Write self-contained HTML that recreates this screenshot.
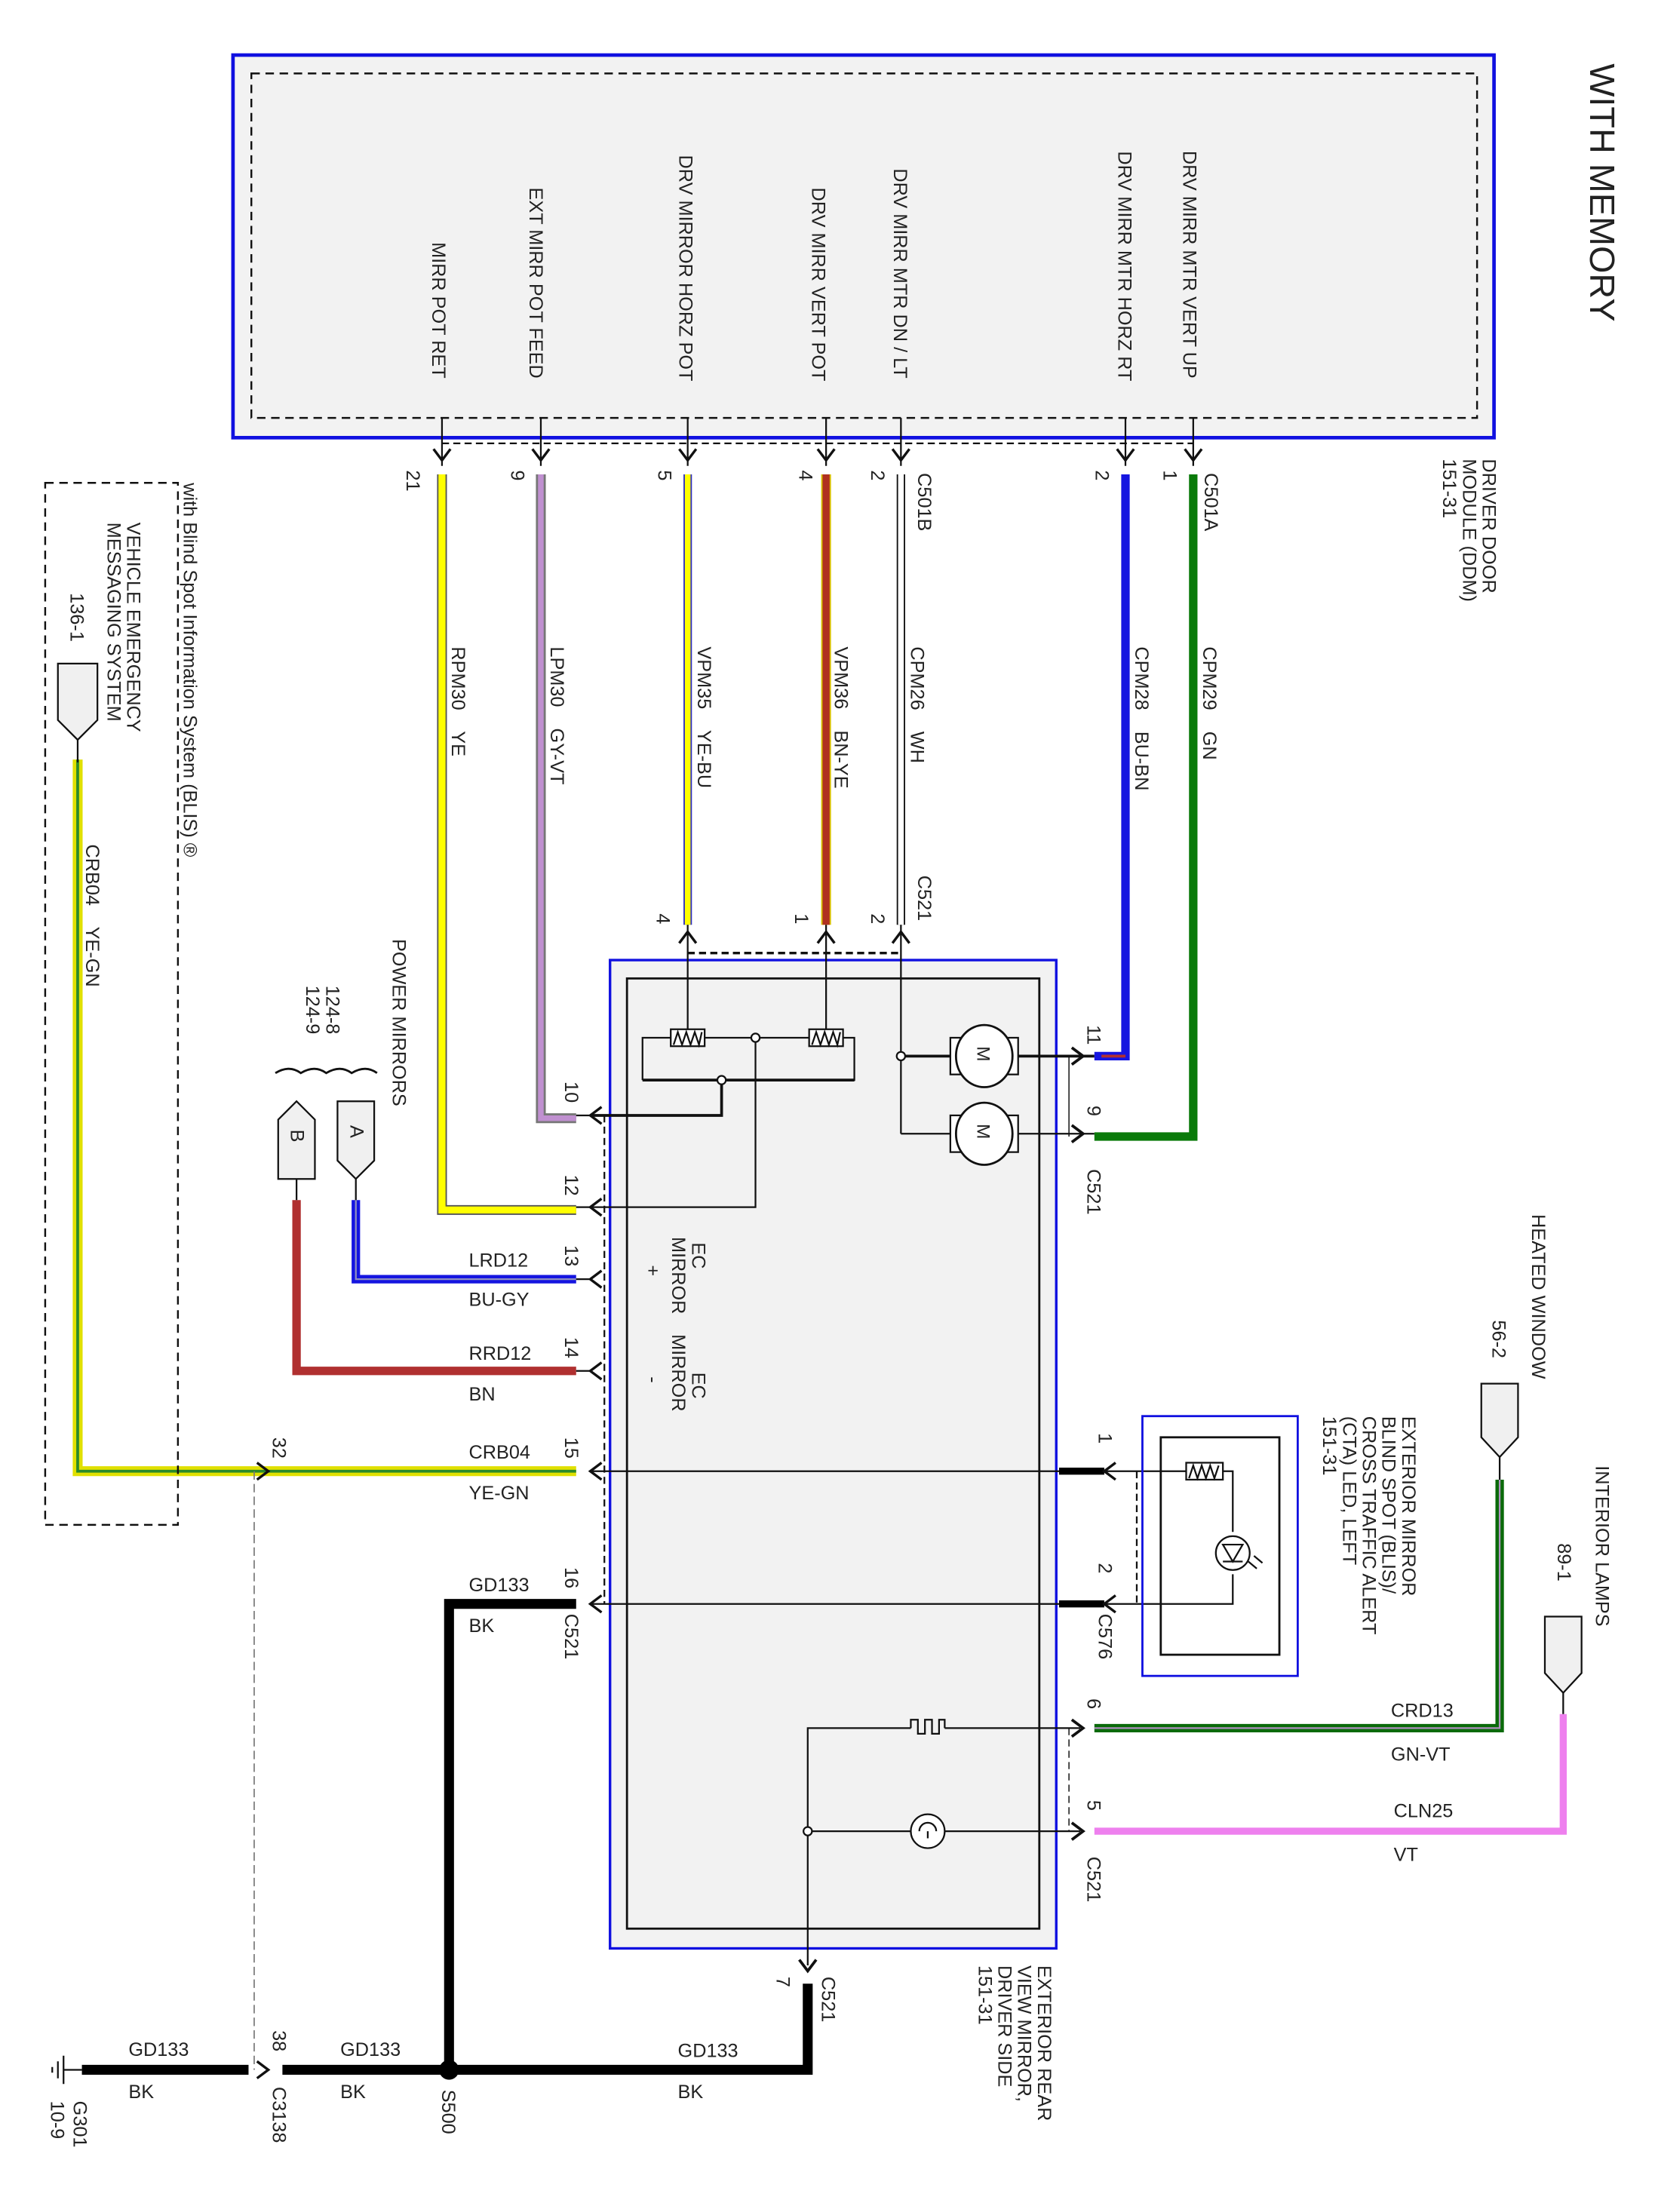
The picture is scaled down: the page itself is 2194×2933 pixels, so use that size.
<!DOCTYPE html>
<html><head><meta charset="utf-8"><style>
html,body{margin:0;padding:0;background:#fff}
svg{display:block}
text{font-family:"Liberation Sans",sans-serif;font-size:13.5px;fill:#222;white-space:pre}
</style></head><body>
<svg width="2194" height="2933" viewBox="0 0 1172 1566.7" preserveAspectRatio="none" xmlns="http://www.w3.org/2000/svg">
<rect width="1172" height="1567" fill="#fff"/>
<!-- DDM box -->
<rect x="165" y="39" width="893" height="271" fill="#f2f2f2" stroke="#1010e0" stroke-width="2.5"/>
<rect x="178" y="52" width="868" height="244" fill="none" stroke="#111" stroke-width="1.3" stroke-dasharray="6,4"/>
<g>
<text text-anchor="end" transform="translate(306,268) rotate(90)">MIRR POT RET</text>
<text text-anchor="end" transform="translate(375,268) rotate(90)">EXT MIRR POT FEED</text>
<text text-anchor="end" transform="translate(481,270) rotate(90)">DRV MIRROR HORZ POT</text>
<text text-anchor="end" transform="translate(575,270) rotate(90)">DRV MIRR VERT POT</text>
<text text-anchor="end" transform="translate(633,268) rotate(90)">DRV MIRR MTR DN / LT</text>
<text text-anchor="end" transform="translate(792,270) rotate(90)">DRV MIRR MTR HORZ RT</text>
<text text-anchor="end" transform="translate(838,268) rotate(90)">DRV MIRR MTR VERT UP</text>
<text style="font-size:25px" transform="translate(1126,45) rotate(90)">WITH MEMORY</text>
<text transform="translate(1050,325) rotate(90)">DRIVER DOOR</text>
<text transform="translate(1036,325) rotate(90)">MODULE (DDM)</text>
<text transform="translate(1022,325) rotate(90)">151-31</text>
</g>
<!-- DDM pins -->
<g stroke="#111" stroke-width="1.2" fill="none">
<path d="M313,296V330M383,296V330M487,296V330M585,296V330M638,296V330M797,296V330M845,296V330"/>
<path d="M307,318L313,326L319,318M377,318L383,326L389,318M481,318L487,326L493,318M579,318L585,326L591,318M632,318L638,326L644,318M791,318L797,326L803,318M839,318L845,326L851,318" stroke-width="1.8"/>
<path d="M313,314H845" stroke-dasharray="5,3"/>
</g>
<g>
<text transform="translate(288,333) rotate(90)">21</text>
<text transform="translate(362,333) rotate(90)">9</text>
<text transform="translate(466,333) rotate(90)">5</text>
<text transform="translate(566,333) rotate(90)">4</text>
<text transform="translate(617,333) rotate(90)">2</text>
<text transform="translate(776,333) rotate(90)">2</text>
<text transform="translate(824,333) rotate(90)">1</text>
<text transform="translate(650,335) rotate(90)">C501B</text>
<text transform="translate(853,335) rotate(90)">C501A</text>
<text transform="translate(320,458) rotate(90)">RPM30    YE</text>
<text transform="translate(390,458) rotate(90)">LPM30    GY-VT</text>
<text transform="translate(494,458) rotate(90)">VPM35    YE-BU</text>
<text transform="translate(591,458) rotate(90)">VPM36    BN-YE</text>
<text transform="translate(645,458) rotate(90)">CPM26    WH</text>
<text transform="translate(804,458) rotate(90)">CPM28    BU-BN</text>
<text transform="translate(852,458) rotate(90)">CPM29    GN</text>
<text transform="translate(650,620) rotate(90)">C521</text>
<text transform="translate(465,647) rotate(90)">4</text>
<text transform="translate(563,647) rotate(90)">1</text>
<text transform="translate(617,647) rotate(90)">2</text>
</g>
<!-- colored wires -->
<g fill="none" stroke-linejoin="miter">
<polyline points="313,336 313,857 408,857" stroke="#555" stroke-width="7"/>
<polyline points="313,336 313,857 408,857" stroke="#ffff00" stroke-width="5"/>
<polyline points="383,336 383,792 408,792" stroke="#777" stroke-width="7"/>
<polyline points="383,336 383,792 408,792" stroke="#c090d0" stroke-width="4"/>
<polyline points="487,336 487,655" stroke="#3030c0" stroke-width="6"/>
<polyline points="487,336 487,655" stroke="#ffff00" stroke-width="4"/>
<polyline points="585,336 585,655" stroke="#d8c000" stroke-width="7"/>
<polyline points="585,336 585,655" stroke="#b03020" stroke-width="5"/>
<polyline points="638,336 638,655" stroke="#111" stroke-width="6"/>
<polyline points="638,336 638,655" stroke="#fff" stroke-width="4"/>
<polyline points="797,336 797,748 775,748" stroke="#1515e0" stroke-width="6"/>
<polyline points="780,748 797,748" stroke="#b03030" stroke-width="2"/>
<polyline points="845,336 845,805 775,805" stroke="#0a7a0a" stroke-width="6"/>
<polyline points="408,906 252,906 252,850" stroke="#1515e0" stroke-width="6"/>
<polyline points="408,906 252,906 252,850" stroke="#9090c0" stroke-width="1.2"/>
<polyline points="408,971 210,971 210,850" stroke="#b03030" stroke-width="6"/>
<polyline points="408,1042 55,1042 55,538" stroke="#e0e000" stroke-width="7"/>
<polyline points="408,1042 55,1042 55,538" stroke="#2a8a2a" stroke-width="2"/>
<polyline points="775,1224 1062,1224 1062,1048" stroke="#0a6a0a" stroke-width="6"/>
<polyline points="775,1224 1062,1224 1062,1048" stroke="#b090c0" stroke-width="1.2"/>
<polyline points="775,1297 1107,1297 1107,1214" stroke="#ee80ee" stroke-width="5"/>
<polyline points="408,1136 318,1136 318,1466" stroke="#000" stroke-width="7"/>
<polyline points="58,1466 176,1466" stroke="#000" stroke-width="7"/>
<polyline points="200,1466 572,1466 572,1405" stroke="#000" stroke-width="7"/>
<path d="M750,1042H782M750,1136H782" stroke="#000" stroke-width="5"/>
</g>
<!-- mirror box -->
<rect x="432" y="680" width="316" height="700" fill="#f2f2f2" stroke="#1010e0" stroke-width="1.8"/>
<rect x="444" y="693" width="292" height="673" fill="none" stroke="#111" stroke-width="1.5"/>
<g stroke="#111" stroke-width="1.2" fill="none">
<path d="M487,655V735M585,655V735M638,655V803" />
<path d="M481,668L487,660L493,668M579,668L585,660L591,668M632,668L638,660L644,668" stroke-width="1.8"/>
<path d="M487,675H638" stroke-dasharray="5,3" stroke-width="1.8"/>
<path d="M455,765V735H475M499,735H573M597,735H605V765H455" />
<path d="M455,765H605" stroke-width="2"/>
<rect x="475" y="729" width="24" height="12" fill="#fff"/>
<rect x="573" y="729" width="24" height="12" fill="#fff"/>
<path d="M477,740L480,731L483,740L486,731L489,740L492,731L495,740L497,731"/>
<path d="M575,740L578,731L581,740L584,731L587,740L590,731L593,740L595,731"/>
<path d="M535,735V855H418"/>
<path d="M511,765V790H418" stroke-width="2"/>
<circle cx="535" cy="735" r="3" fill="#fff"/>
<circle cx="511" cy="765" r="3" fill="#fff"/>
<path d="M638,748H675M719,748H775" stroke-width="2"/>
<path d="M638,803H675M719,803H775"/>
<circle cx="638" cy="748" r="3" fill="#fff"/>
<rect x="673" y="735" width="48" height="26" fill="#fff"/>
<rect x="673" y="790" width="48" height="26" fill="#fff"/>
<ellipse cx="697" cy="748" rx="20" ry="22" fill="#fff" stroke-width="1.5"/>
<ellipse cx="697" cy="803" rx="20" ry="22" fill="#fff" stroke-width="1.5"/>
<path d="M759,742L767,748L759,754M759,797L767,803L759,809" stroke-width="2"/>
<path d="M757,748V805" stroke-width="0.8"/>
<path d="M418,790H408M418,855H408M418,906H408M418,971H408M418,1042H750M418,1136H750"/>
<path d="M426,784L418,790L426,796M426,849L418,855L426,861M426,900L418,906L426,912M426,965L418,971L426,977M426,1036L418,1042L426,1048M426,1130L418,1136L426,1142" stroke-width="1.8"/>
<path d="M428,790V1136" stroke-dasharray="5,3"/>
<path d="M790,1036L782,1042L790,1048M790,1130L782,1136L790,1142" stroke-width="1.8"/>
<path d="M805,1042V1136" stroke-dasharray="5,3"/>
<path d="M782,1042H840M866,1042H873V1085M873,1115V1136H782"/>
<rect x="840" y="1036" width="26" height="12" fill="#fff"/>
<path d="M842,1047L845,1038L848,1047L851,1038L854,1047L857,1038L860,1047L863,1038"/>
<circle cx="873" cy="1100" r="12" fill="#fff"/>
<path d="M866,1094H880L873,1106Z M866,1106H880"/>
<path d="M884,1106l6,5M888,1102l6,5"/>
<path d="M572,1392V1224H645M669,1224H765M572,1297H645M669,1297H765"/>
<path d="M645,1224V1218H650V1228H655V1218H660V1228H665V1218H669V1224"/>
<circle cx="657" cy="1297" r="12" fill="#fff"/>
<path d="M651,1297a6,6 0 0 1 12,0M657,1297v5"/>
<circle cx="572" cy="1297" r="3" fill="#fff"/>
<path d="M759,1218L767,1224L759,1230M759,1291L767,1297L759,1303" stroke-width="2"/>
<path d="M757,1224V1297" stroke-dasharray="5,3" stroke-width="0.8"/>
<path d="M566,1388L572,1396L578,1388" stroke-width="2"/>
<path d="M180,1042V1466" stroke="#777" stroke-dasharray="6,3" stroke-width="0.9"/>
<path d="M182,1036L190,1042L182,1048M182,1460L190,1466L182,1472" stroke-width="1.8"/>
<path d="M45,1456V1476M41,1460V1472M37,1464V1468M45,1466H58"/>
</g>
<circle cx="318" cy="1466" r="7" fill="#000"/>
<rect x="809" y="1003" width="110" height="184" fill="none" stroke="#1010e0" stroke-width="1.5"/>
<rect x="822" y="1018" width="84" height="154" fill="none" stroke="#111" stroke-width="1.5"/>
<g fill="#f0f0f0" stroke="#111" stroke-width="1.2">
<path d="M239,780H265V822L252,835L239,822Z"/>
<path d="M197,835H223V793L210,780L197,793Z"/>
<path d="M41,470H69V510L55,524L41,510Z"/>
<path d="M1049,980H1075V1018L1062,1032L1049,1018Z"/>
<path d="M1094,1145H1120V1185L1107,1199L1094,1185Z"/>
</g>
<path d="M210,835V850M252,835V850M55,524V540M1062,1032V1048M1107,1199V1214" stroke="#111" stroke-width="1.2"/>
<path d="M195,760q10,-6 18,0q10,-6 18,0q10,-6 18,0q10,-6 18,0" stroke="#111" fill="none" stroke-width="1.5"/>
<g>
<text transform="translate(248,797) rotate(90)">A</text>
<text transform="translate(206,800) rotate(90)">B</text>
<text transform="translate(278,665) rotate(90)">POWER MIRRORS</text>
<text transform="translate(231,698) rotate(90)">124-8</text>
<text transform="translate(217,698) rotate(90)">124-9</text>
<text transform="translate(130,342) rotate(90)">with Blind Spot Information System (BLIS) ®</text>
<text transform="translate(90,370) rotate(90)">VEHICLE EMERGENCY</text>
<text transform="translate(76,370) rotate(90)">MESSAGING SYSTEM</text>
<text transform="translate(50,420) rotate(90)">136-1</text>
<text transform="translate(61,598) rotate(90)">CRB04    YE-GN</text>
<text transform="translate(400,766) rotate(90)">10</text>
<text transform="translate(400,832) rotate(90)">12</text>
<text transform="translate(400,882) rotate(90)">13</text>
<text transform="translate(400,947) rotate(90)">14</text>
<text transform="translate(400,1018) rotate(90)">15</text>
<text transform="translate(400,1110) rotate(90)">16</text>
<text transform="translate(400,1143) rotate(90)">C521</text>
<text transform="translate(193,1018) rotate(90)">32</text>
<text x="332" y="897">LRD12</text>
<text x="332" y="925">BU-GY</text>
<text x="332" y="963">RRD12</text>
<text x="332" y="992">BN</text>
<text x="332" y="1033">CRB04</text>
<text x="332" y="1062">YE-GN</text>
<text x="332" y="1127">GD133</text>
<text x="332" y="1156">BK</text>
<text transform="translate(490,880) rotate(90)">EC</text>
<text transform="translate(476,876) rotate(90)">MIRROR</text>
<text transform="translate(458,896) rotate(90)">+</text>
<text transform="translate(490,972) rotate(90)">EC</text>
<text transform="translate(476,945) rotate(90)">MIRROR</text>
<text transform="translate(458,975) rotate(90)">-</text>
<text transform="translate(770,726) rotate(90)">11</text>
<text transform="translate(770,783) rotate(90)">9</text>
<text transform="translate(770,828) rotate(90)">C521</text>
<text transform="translate(778,1015) rotate(90)">1</text>
<text transform="translate(778,1107) rotate(90)">2</text>
<text transform="translate(778,1143) rotate(90)">C576</text>
<text transform="translate(993,1003) rotate(90)">EXTERIOR MIRROR</text>
<text transform="translate(979,1003) rotate(90)">BLIND SPOT (BLIS)/</text>
<text transform="translate(965,1003) rotate(90)">CROSS TRAFFIC ALERT</text>
<text transform="translate(951,1003) rotate(90)">(CTA) LED, LEFT</text>
<text transform="translate(937,1003) rotate(90)">151-31</text>
<text transform="translate(1085,860) rotate(90)">HEATED WINDOW</text>
<text transform="translate(1057,935) rotate(90)">56-2</text>
<text transform="translate(1130,1038) rotate(90)">INTERIOR LAMPS</text>
<text transform="translate(1103,1093) rotate(90)">89-1</text>
<text x="985" y="1216">CRD13</text>
<text x="985" y="1247">GN-VT</text>
<text x="987" y="1287">CLN25</text>
<text x="987" y="1318">VT</text>
<text transform="translate(770,1203) rotate(90)">6</text>
<text transform="translate(770,1275) rotate(90)">5</text>
<text transform="translate(770,1315) rotate(90)">C521</text>
<text transform="translate(550,1400) rotate(90)">7</text>
<text transform="translate(582,1400) rotate(90)">C521</text>
<text transform="translate(735,1392) rotate(90)">EXTERIOR REAR</text>
<text transform="translate(721,1392) rotate(90)">VIEW MIRROR,</text>
<text transform="translate(707,1392) rotate(90)">DRIVER SIDE</text>
<text transform="translate(693,1392) rotate(90)">151-31</text>
<text x="91" y="1456">GD133</text>
<text x="91" y="1486">BK</text>
<text x="241" y="1456">GD133</text>
<text x="241" y="1486">BK</text>
<text x="480" y="1457">GD133</text>
<text x="480" y="1486">BK</text>
<text transform="translate(52,1488) rotate(90)">G301</text>
<text transform="translate(36,1488) rotate(90)">10-9</text>
<text transform="translate(193,1438) rotate(90)">38</text>
<text transform="translate(193,1478) rotate(90)">C3138</text>
<text transform="translate(313,1480) rotate(90)">S500</text>
</g>
<rect x="32" y="342" width="94" height="738" fill="none" stroke="#111" stroke-width="1.3" stroke-dasharray="6,4"/>
<g>
<text transform="translate(692,741) rotate(90)" style="font-size:13px">M</text>
<text transform="translate(692,796) rotate(90)" style="font-size:13px">M</text>
</g>
</svg>
</body></html>
